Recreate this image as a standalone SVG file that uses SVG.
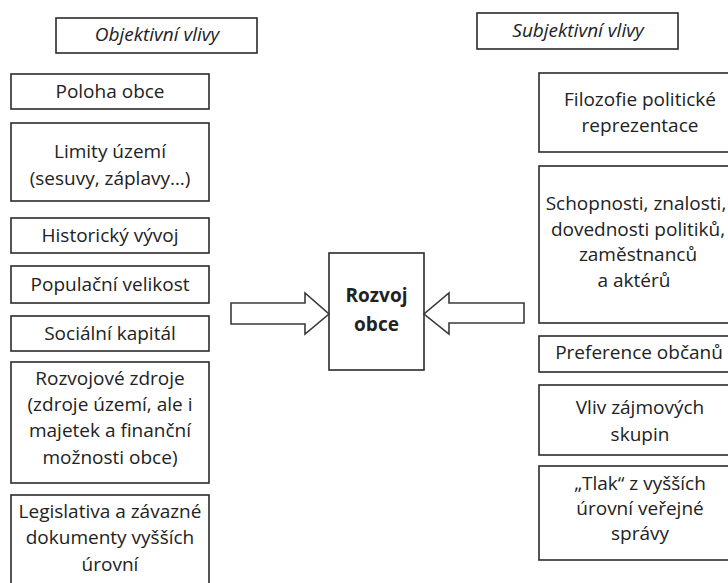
<svg xmlns="http://www.w3.org/2000/svg" width="728" height="583" viewBox="0 0 728 583">
<style>
.box{fill:#fff;stroke:#2b2b2b;stroke-width:1.6}
.t{font-family:"Open Sans","Noto Sans",sans-serif;font-size:19px;fill:#222;text-anchor:middle}
.i{font-style:italic}
.b{font-weight:bold}
.arr{fill:#fff;stroke:#3a3a3a;stroke-width:1.6;stroke-linejoin:miter}
</style>
<rect width="728" height="583" fill="#fff"/>
<g id="hdr-obj"><rect class="box" x="56" y="18" width="201" height="35"/><text class="t i" x="157" y="41">Objektivní vlivy</text></g>
<g id="hdr-subj"><rect class="box" x="477" y="13" width="201" height="36"/><text class="t i" x="578" y="37">Subjektivní vlivy</text></g>

<g id="poloha"><rect class="box" x="11" y="74" width="198" height="35"/><text class="t" x="110" y="98">Poloha obce</text></g>
<g id="limity"><rect class="box" x="11" y="123" width="198" height="78"/><text class="t" x="110" y="158">Limity území</text><text class="t" x="110" y="185">(sesuvy, záplavy…)</text></g>
<g id="historicky"><rect class="box" x="11" y="218" width="198" height="35"/><text class="t" x="110" y="242">Historický vývoj</text></g>
<g id="populacni"><rect class="box" x="11" y="266" width="198" height="37"/><text class="t" x="110" y="291">Populační velikost</text></g>
<g id="socialni"><rect class="box" x="11" y="316" width="198" height="35"/><text class="t" x="110" y="340">Sociální kapitál</text></g>
<g id="rozvojove"><rect class="box" x="11" y="362" width="198" height="121"/><text class="t" x="110" y="385">Rozvojové zdroje</text><text class="t" x="110" y="411">(zdroje území, ale i</text><text class="t" x="110" y="437">majetek a finanční</text><text class="t" x="110" y="464">možnosti obce)</text></g>
<g id="legislativa"><rect class="box" x="11" y="495" width="198" height="100"/><text class="t" x="110" y="518">Legislativa a závazné</text><text class="t" x="110" y="544">dokumenty vyšších</text><text class="t" x="110" y="571">úrovní</text></g>

<g id="rozvoj"><rect class="box" x="329" y="253" width="95" height="117"/><text class="t b" x="376.5" y="302">Rozvoj</text><text class="t b" x="376.5" y="331">obce</text></g>

<g id="filozofie"><rect class="box" x="539" y="73" width="203" height="79"/><text class="t" x="640" y="106">Filozofie politické</text><text class="t" x="640" y="132">reprezentace</text></g>
<g id="schopnosti"><rect class="box" x="539" y="166" width="203" height="157"/><text class="t" x="636" y="210">Schopnosti, znalosti,</text><text class="t" x="638" y="236">dovednosti politiků,</text><text class="t" x="638" y="261">zaměstnanců</text><text class="t" x="634" y="287">a aktérů</text></g>
<g id="preference"><rect class="box" x="539" y="336" width="203" height="36"/><text class="t" x="639" y="359">Preference občanů</text></g>
<g id="vliv"><rect class="box" x="539" y="385" width="203" height="70"/><text class="t" x="640" y="414">Vliv zájmových</text><text class="t" x="640" y="441">skupin</text></g>
<g id="tlak"><rect class="box" x="539" y="466" width="203" height="94"/><text class="t" x="640" y="490">„Tlak“ z vyšších</text><text class="t" x="640" y="515">úrovní veřejné</text><text class="t" x="640" y="540">správy</text></g>

<g id="connectors">
<polygon class="arr" points="231,303 305,303 305,293 329,314 305,334 305,324 231,324"/>
<polygon class="arr" points="524,303 449,303 449,293 424,314 449,334 449,323 524,323"/>
</g>
</svg>
